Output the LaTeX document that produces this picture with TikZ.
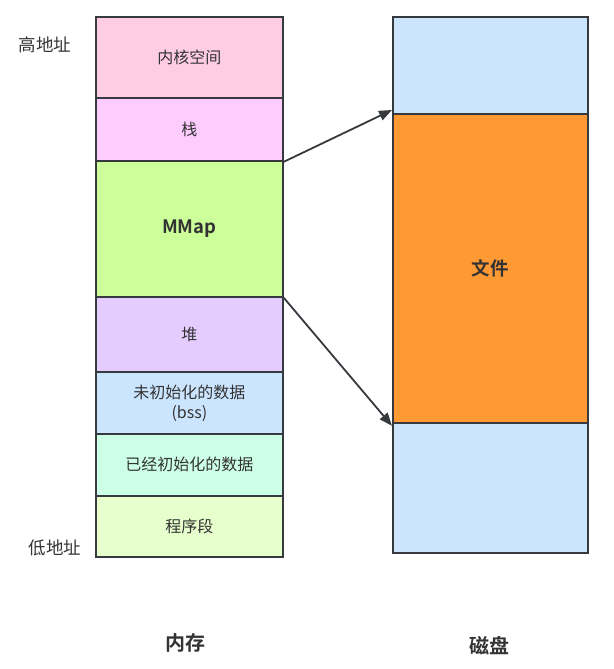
\documentclass[tikz,border=0pt]{standalone}
\usepackage{fontspec}
\setmainfont{Noto Sans CJK SC}
\newfontfamily\cjkb{Noto Sans CJK SC Bold}
\usetikzlibrary{arrows.meta}
\definecolor{strk}{HTML}{36393D}
\definecolor{ckernel}{HTML}{FFCCE6}
\definecolor{cstack}{HTML}{FFCCFF}
\definecolor{cmmap}{HTML}{CCFF99}
\definecolor{cheap}{HTML}{E5CCFF}
\definecolor{cbss}{HTML}{CCE5FF}
\definecolor{cdata}{HTML}{CCFFE6}
\definecolor{ctext}{HTML}{E6FFCC}
\definecolor{cfile}{HTML}{FF9933}
\definecolor{txt}{HTML}{333333}
\tikzset{
  seg/.style={draw=strk, line width=1.8pt, text=txt, font=\fontsize{16}{20}\selectfont, align=center},
  side/.style={text=txt, font=\fontsize{17.5}{20}\selectfont},
  title/.style={text=txt, font=\cjkb\fontsize{20}{23}\selectfont},
  link/.style={draw=strk, line width=1.8pt, -{Triangle[length=13pt,width=10pt]}},
}
\begin{document}
\begin{tikzpicture}[x=1pt,y=-1pt]
\useasboundingbox (0,0) rectangle (613,669);
% memory column
\node[seg, fill=ckernel, minimum width=187, minimum height=81, anchor=north west] (kernel) at (95,16) {内核空间};
\node[seg, fill=cstack, minimum width=187, minimum height=63, anchor=north west] (stack) at (95,97) {栈};
\node[seg, fill=cmmap, minimum width=187, minimum height=136, anchor=north west, font=\cjkb\fontsize{18.5}{21}\selectfont] (mmap) at (95,160) {MMap};
\node[seg, fill=cheap, minimum width=187, minimum height=75, anchor=north west] (heap) at (95,296) {堆};
\node[seg, fill=cbss, minimum width=187, minimum height=62, anchor=north west] (bss) at (95,371) {未初始化的数据\\(bss)};
\node[seg, fill=cdata, minimum width=187, minimum height=62, anchor=north west] (data) at (95,433) {已经初始化的数据};
\node[seg, fill=ctext, minimum width=187, minimum height=61, anchor=north west] (prog) at (95,495) {程序段};
% disk column
\node[seg, fill=cbss, minimum width=195, minimum height=97, anchor=north west] (dtop) at (392,16) {};
\node[seg, fill=cfile, minimum width=195, minimum height=309, anchor=north west, font=\cjkb\fontsize{18.5}{21}\selectfont] (file) at (392,113) {文件};
\node[seg, fill=cbss, minimum width=195, minimum height=130, anchor=north west] (dbot) at (392,422) {};
% labels
\node[side] (hi) at (45,45) {高地址};
\node[side] (lo) at (55,548) {低地址};
\node[title] (mem) at (185,643) {内存};
\node[title] (disk) at (489,646) {磁盘};
% links
\draw[link] (stack.south east) -- ([yshift=3pt]file.north west);
\draw[link] (mmap.south east) -- ([yshift=-2pt]file.south west);
\end{tikzpicture}
\end{document}
